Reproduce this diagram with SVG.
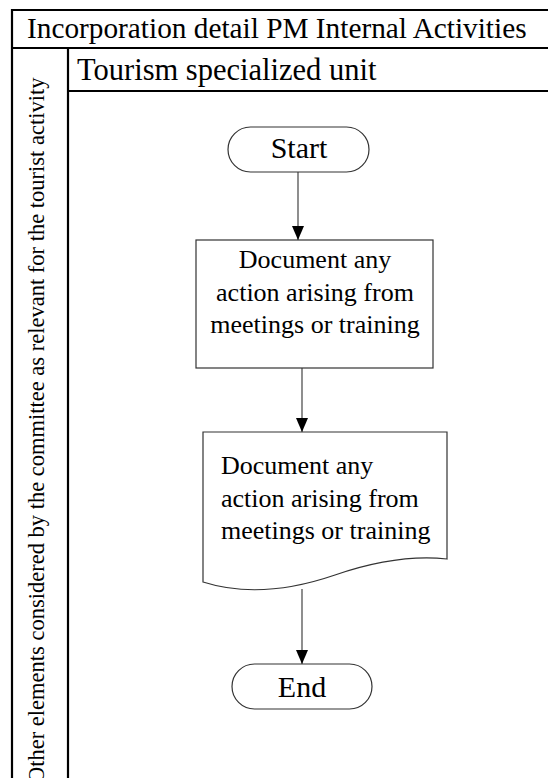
<svg xmlns="http://www.w3.org/2000/svg" width="548" height="778" viewBox="0 0 548 778" font-family="'Liberation Serif', 'Times New Roman', Times, serif">
<style>
.tbl{stroke:#000;stroke-width:2.2;fill:none}
.shape{fill:#fff;stroke:#333;stroke-width:1.2}
.conn{stroke:#444;stroke-width:1.2;fill:none}
text{font-family:'Liberation Serif','Times New Roman',Times,serif;fill:#000}
.hdr{font-size:29.3px}
.lane{font-size:30.5px}
.term{font-size:30px;text-anchor:middle}
.body{font-size:26px}
.vert{font-size:22.5px}
</style>
<defs>
<marker id="ah" viewBox="0 0 14 12" refX="14" refY="6" markerWidth="14" markerHeight="12" markerUnits="userSpaceOnUse" orient="auto">
<path d="M0,0 L14,6 L0,12 Z" fill="#000"/>
</marker>
</defs>
<g id="table">
<path class="tbl" d="M12,790 L12,10 L560,10 M12,48 L560,48 M68,48 L68,790 M68,91 L560,91"/>
<text class="hdr" x="27" y="38">Incorporation detail PM Internal Activities</text>
<text class="lane" x="77" y="80">Tourism specialized unit</text>
<text class="vert" transform="translate(44,783) rotate(-90)">Other elements considered by the committee as relevant for the tourist activity</text>
</g>
<g id="connectors">
<path class="conn" d="M298,172 L298,240" marker-end="url(#ah)"/>
<path class="conn" d="M302,368 L302,432" marker-end="url(#ah)"/>
<path class="conn" d="M302,589 L302,664" marker-end="url(#ah)"/>
</g>
<g id="start">
<rect class="shape" x="228" y="127" width="141" height="45" rx="22.5"/>
<text class="term" x="299" y="158">Start</text>
</g>
<g id="task">
<rect class="shape" x="196" y="240" width="237" height="128"/>
<text class="body" text-anchor="middle" x="315" y="268">Document any</text>
<text class="body" text-anchor="middle" x="315" y="301">action arising from</text>
<text class="body" text-anchor="middle" x="315" y="333">meetings or training</text>
</g>
<g id="document">
<path class="shape" d="M203,432 L447,432 L447,559 C410,555 370,563 335,575 C300,587 250,597 203,582 Z"/>
<text class="body" x="221" y="474">Document any</text>
<text class="body" x="221" y="507">action arising from</text>
<text class="body" x="221" y="539">meetings or training</text>
</g>
<g id="end">
<rect class="shape" x="232" y="664" width="140" height="45" rx="22.5"/>
<text class="term" x="302" y="697">End</text>
</g>
</svg>
